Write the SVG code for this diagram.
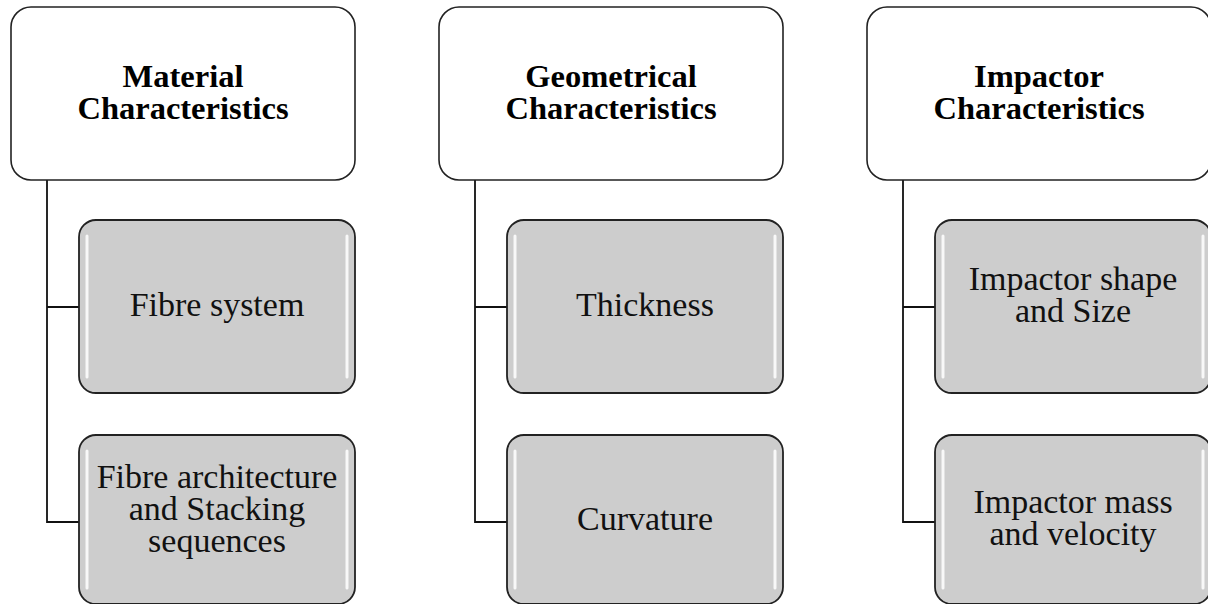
<svg xmlns="http://www.w3.org/2000/svg" width="1208" height="604" viewBox="0 0 1208 604">
<style>
.head{fill:#ffffff;stroke:#222;stroke-width:1.6}
.child{fill:#cdcdcd;stroke:#222;stroke-width:1.8}
.hl{stroke:#ffffff;stroke-width:3;stroke-linecap:round;opacity:0.85;fill:none}
.conn{stroke:#111;stroke-width:1.8;fill:none}
.t1{font-family:"Liberation Serif","Times New Roman",serif;font-weight:bold;font-size:32.5px;fill:#000;text-anchor:middle}
.t2{font-family:"Liberation Serif","Times New Roman",serif;font-size:34px;fill:#111;text-anchor:middle}
</style>
<rect width="1208" height="604" fill="#ffffff"/>
<g id="connectors">
<path class="conn" d="M47 180 V522 H79 M47 307 H79"/>
<path class="conn" d="M475 180 V522 H507 M475 307 H507"/>
<path class="conn" d="M903 180 V522 H935 M903 307 H935"/>
</g>
<g id="material">
<rect class="head" x="11" y="7" width="344" height="173" rx="20"/>
<text class="t1" x="183" y="87">Material<tspan x="183" dy="32">Characteristics</tspan></text>
</g>
<g id="fibre-system">
<rect class="child" x="79" y="220" width="276" height="173" rx="17"/>
<path class="hl" d="M87 236 V377 M347 236 V377"/>
<text class="t2" x="217" y="316">Fibre system</text>
</g>
<g id="fibre-architecture">
<rect class="child" x="79" y="435" width="276" height="169" rx="17"/>
<path class="hl" d="M87 451 V588 M347 451 V588"/>
<text class="t2" x="217" y="488">Fibre architecture<tspan x="217" dy="32">and Stacking</tspan><tspan x="217" dy="32">sequences</tspan></text>
</g>
<g id="geometrical">
<rect class="head" x="439" y="7" width="344" height="173" rx="20"/>
<text class="t1" x="611" y="87">Geometrical<tspan x="611" dy="32">Characteristics</tspan></text>
</g>
<g id="thickness">
<rect class="child" x="507" y="220" width="276" height="173" rx="17"/>
<path class="hl" d="M515 236 V377 M775 236 V377"/>
<text class="t2" x="645" y="316">Thickness</text>
</g>
<g id="curvature">
<rect class="child" x="507" y="435" width="276" height="169" rx="17"/>
<path class="hl" d="M515 451 V588 M775 451 V588"/>
<text class="t2" x="645" y="530">Curvature</text>
</g>
<g id="impactor">
<rect class="head" x="867" y="7" width="344" height="173" rx="20"/>
<text class="t1" x="1039" y="87">Impactor<tspan x="1039" dy="32">Characteristics</tspan></text>
</g>
<g id="impactor-shape">
<rect class="child" x="935" y="220" width="276" height="173" rx="17"/>
<path class="hl" d="M943 236 V377 M1203 236 V377"/>
<text class="t2" x="1073" y="290">Impactor shape<tspan x="1073" dy="32">and Size</tspan></text>
</g>
<g id="impactor-mass">
<rect class="child" x="935" y="435" width="276" height="169" rx="17"/>
<path class="hl" d="M943 451 V588 M1203 451 V588"/>
<text class="t2" x="1073" y="513">Impactor mass<tspan x="1073" dy="32">and velocity</tspan></text>
</g>
</svg>
